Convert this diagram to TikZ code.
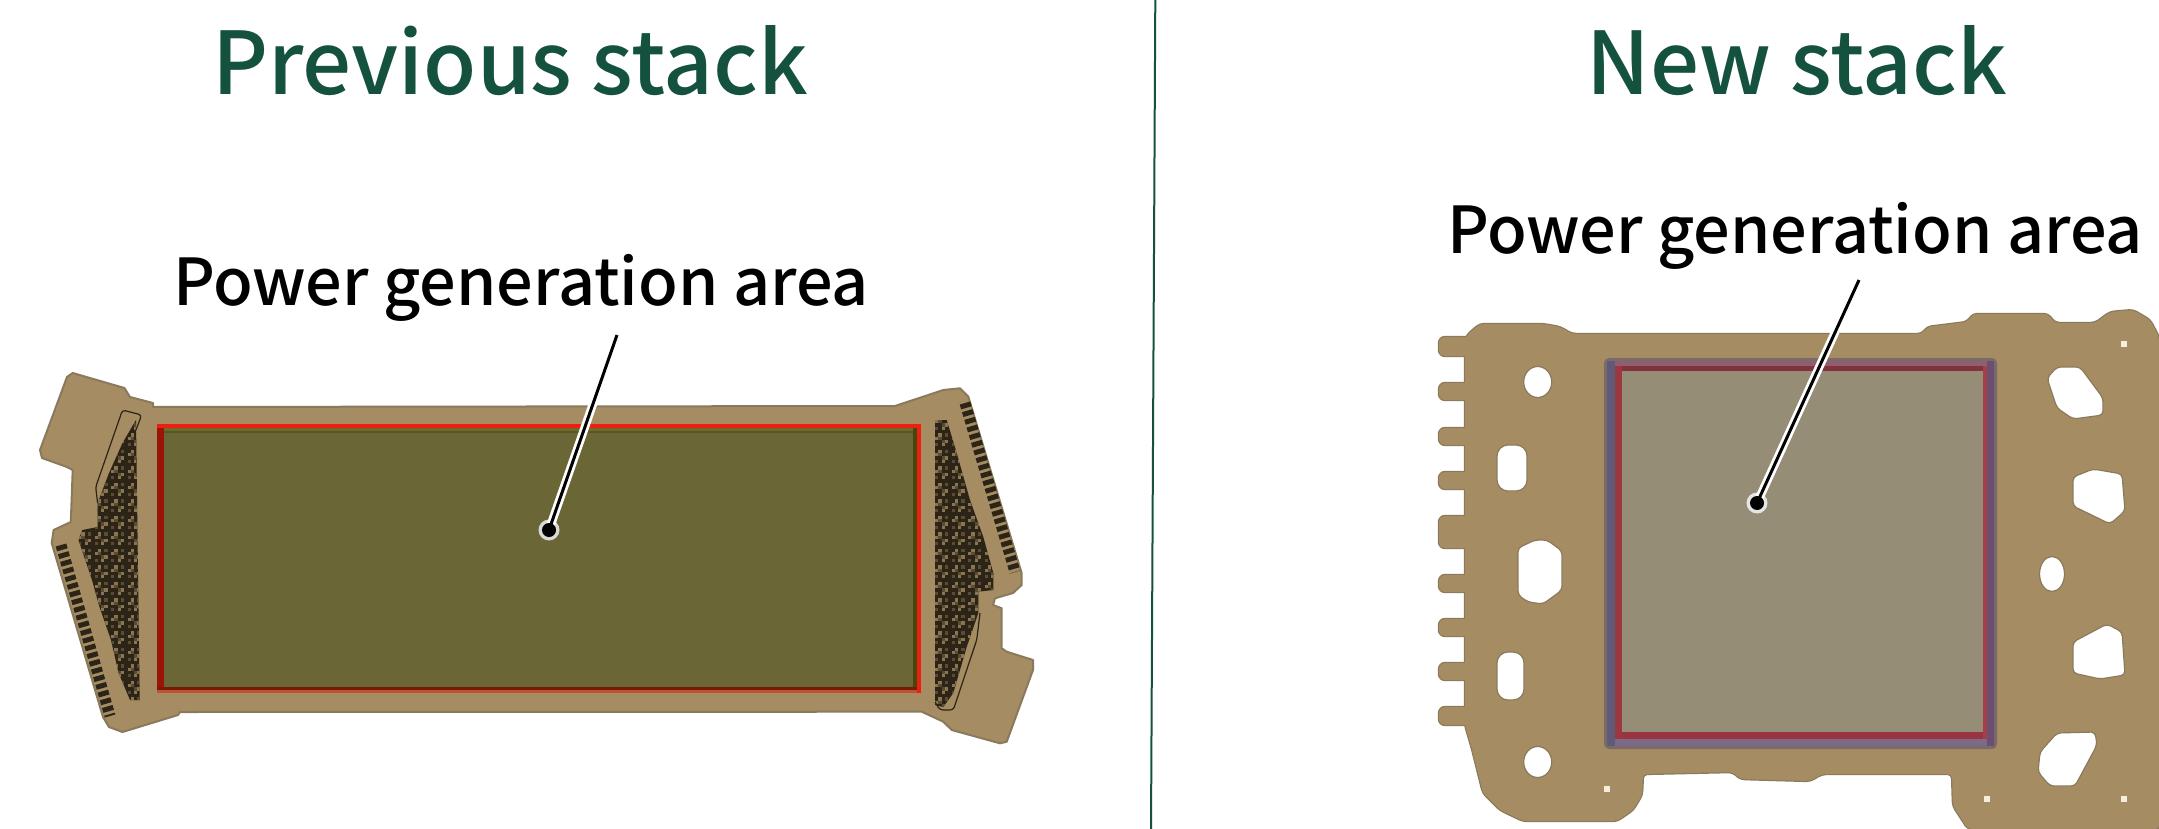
\documentclass[tikz,border=0pt]{standalone}
\usepackage{fontspec}
\setmainfont{Noto Sans CJK JP Medium}
\definecolor{tan}{HTML}{A58C63}
\definecolor{tanedge}{HTML}{8A7A5C}
\definecolor{titlegreen}{HTML}{14523F}
\definecolor{olive}{HTML}{6A6635}
\definecolor{olivelight}{HTML}{6F6A2C}
\definecolor{olivedark}{HTML}{5A5822}
\definecolor{olivedeep}{HTML}{4A4510}
\definecolor{redbright}{HTML}{EE1E10}
\definecolor{reddark}{HTML}{9A1508}
\definecolor{reddeep}{HTML}{7A1A02}
\definecolor{redsoft}{HTML}{BD5238}
\definecolor{greyfill}{HTML}{958D75}
\definecolor{nedge}{HTML}{7A6A68}
\definecolor{ntop}{HTML}{8F5F70}
\definecolor{nbot}{HTML}{7D6A88}
\definecolor{nleft}{HTML}{5F5A78}
\definecolor{nright}{HTML}{6B4F70}
\definecolor{nrtop}{HTML}{82323C}
\definecolor{nrbot}{HTML}{993540}
\definecolor{nrleft}{HTML}{9C3740}
\definecolor{nrright}{HTML}{A5404A}
\definecolor{hdark}{HTML}{2C2416}
\definecolor{hmid}{HTML}{5A4C34}
\definecolor{hlight}{HTML}{8A7550}
\definecolor{cream}{HTML}{F6EEDD}
\newcommand{\hatchgrid}[4]{%
  \fill[hdark] (#1,#2) rectangle ({#1+#3*3.3},{#2+#4*3.3});
  \foreach \i in {0,...,#3}{\foreach \j in {0,...,#4}{%
    \pgfmathtruncatemacro\k{mod(\i*7+\j*11+\i*\j,5)}%
    \ifnum\k=0 \fill[hlight] ({#1+\i*3.3},{#2+\j*3.3}) rectangle ++(3.3,3.3);\fi
    \ifnum\k=2 \fill[hmid] ({#1+\i*3.3},{#2+\j*3.3}) rectangle ++(3.3,3.3);\fi
  }}%
}
\tikzset{
  title/.style={text=titlegreen,font=\fontsize{86.6}{88}\selectfont,inner sep=0pt,anchor=base},
  label/.style={text=black,font=\fontsize{64.7}{66}\selectfont,inner sep=0pt,anchor=base},
  halo/.style={draw=white,line width=8.5pt,line cap=round},
  leader/.style={draw=black,line width=3pt},
  hole/.style={fill=white,draw=tanedge,line width=1.2pt,rounded corners=4pt},
  pin/.style={fill=cream,inner sep=0pt,minimum size=5.5pt},
  hatchline/.style={draw=hdark,line width=1.2pt,rounded corners=3pt},
  strip/.style={draw=hdark,line width=11pt,dash pattern=on 5pt off 3pt},
}
\begin{document}
\begin{tikzpicture}[x=1pt,y=-1pt]
\useasboundingbox (0,0) rectangle (2159,829);
\fill[white] (0,0) rectangle (2159,829);

% divider
\coordinate (divtop) at (1155.3,0);
\coordinate (divbot) at (1151,829);
\draw[titlegreen,line width=2pt] (divtop) -- (divbot);

% titles
\node[title] (t1) at (510,95) {Previous stack};
\node[title] (t2) at (1797,95) {New stack};

% ---------- previous stack plate
\path[fill=tan,draw=tanedge,line width=2pt,line join=round]
 (72.7,373) -- (124.4,388) -- (130,397) -- (153,403) -- (153,407) -- (895,406) -- (943.3,390) -- (960,388.3)
 -- (968.3,396.7) -- (1021.7,573.3) -- (1021.7,585) -- (1013,593) -- (995,598.3) -- (993,605)
 -- (1001.7,608.3) -- (1001.7,648.3) -- (1006.7,651.7) -- (1033,660) -- (1033,670) -- (1006.7,741.7)
 -- (1000,743.3) -- (951.7,730) -- (943.3,721.7) -- (921.7,711.7) -- (180,712) -- (178,715)
 -- (122.5,732) -- (109,727) -- (103,717) -- (51.7,543) -- (53.6,530) -- (70.8,522) -- (72.7,470)
 -- (67,467) -- (42,458) -- (40,450) -- (67,377) -- cycle;

% left hatch
\begin{scope}
\clip (136,420) -- (139.7,700) -- (130,700) -- (118.6,673) -- (111,640) -- (99.5,607) -- (92,580)
 -- (78.5,540) -- (82.3,530) -- (97.6,527) -- (97.6,503) -- (109,473) -- (122.5,443) -- cycle;
\hatchgrid{78}{420}{19}{85}
\end{scope}
\draw[hatchline] (97.6,503) -- (95.7,487) -- (122.5,410) -- (141.6,415) -- (136,430);
\coordinate (ls1) at (61,545);
\coordinate (ls2) at (110,716);
\draw[strip] (ls1) -- (ls2);

% right hatch
\begin{scope}
\clip (935,420) -- (946.7,420) -- (956.7,453) -- (970,500) -- (983.3,537) -- (993.3,573) -- (993.3,590)
 -- (978.3,591.7) -- (978.3,613) -- (966.7,647) -- (953.3,693) -- (943.3,707) -- (935,705) -- cycle;
\hatchgrid{935}{420}{18}{88}
\end{scope}
\draw[hatchline] (980,613) -- (976.7,640) -- (953.3,710) -- (940,710) -- (935,702);
\coordinate (rs1) at (965,403);
\coordinate (rs2) at (1015,572);
\draw[strip] (rs1) -- (rs2);

% previous stack area
\fill[olive] (157,424) rectangle (921,693);
\fill[olivelight] (157,427) rectangle (921,431);
\fill[olivedark] (157,431) rectangle (921,433);
\fill[olivedeep] (913,427) rectangle (917,690);
\fill[reddark] (157,424) rectangle (164,693);
\fill[reddeep] (157,687) rectangle (917,690);
\fill[redsoft] (157,690) rectangle (921,693);
\fill[redbright] (157,424) rectangle (921,427.5);
\fill[redbright] (917,424) rectangle (921,693);

% ---------- new stack plate
\newcommand{\platebody}{
 (1468,334) -- (1480,324) -- (1543,324) -- (1560,327) -- (1572,334) -- (1922,334) -- (1927,327) -- (1967,322)
 -- (1973,314) -- (2048,314) -- (2055,323) -- (2095,323) -- (2110,312) -- (2133,310) -- (2150,320)
 -- (2159,337) -- (2159,829) -- (1968,829) -- (1953,806) -- (1952,774) -- (1822,774) -- (1810,781)
 -- (1740,779) -- (1733,772) -- (1643,774) -- (1642,795) -- (1633,810) -- (1617,821) -- (1523,821)
 -- (1500,810) -- (1483,793) -- (1472,749) -- (1465,725) -- (1465,340) -- cycle}
\foreach \ya/\yb in {337/356,383/400,428/445,472/489,516/548,575/592,619/636,663/680,707/725}{
  \path[draw=tanedge,line width=2.4pt,rounded corners=6pt] (1439,\ya) rectangle (1475,\yb);
}
\path[draw=tanedge,line width=2.4pt,rounded corners=4pt] \platebody;
\foreach \ya/\yb in {337/356,383/400,428/445,472/489,516/548,575/592,619/636,663/680,707/725}{
  \path[fill=tan,rounded corners=6pt] (1439,\ya) rectangle (1475,\yb);
}
\path[fill=tan,rounded corners=4pt] \platebody;

% holes
\fill[white,draw=tanedge,line width=1.2pt] (1537.7,382) ellipse (14 and 15.5);
\fill[white,draw=tanedge,line width=1.2pt] (1537.7,762) ellipse (14 and 15.5);
\path[hole,rounded corners=11pt] (1497,445) rectangle (1527,491);
\path[hole,rounded corners=11pt] (1497,652) rectangle (1524,700);
\path[hole] (1535,540) -- (1547,540) -- (1562,551) -- (1562,590) -- (1543,604) -- (1528,602) -- (1518,595) -- (1518,548) -- cycle;
\path[hole] (2047,378) -- (2057,367) -- (2080,367) -- (2103,398) -- (2103,415) -- (2073,419) -- (2057,408) -- cycle;
\path[hole] (2073,477) -- (2093,469) -- (2122,474) -- (2125,511) -- (2110,524) -- (2073,506) -- cycle;
\fill[white,draw=tanedge,line width=1.2pt] (2052,574) ellipse (12.5 and 17.5);
\path[hole] (2073,642) -- (2107,624) -- (2122,632) -- (2125,675) -- (2100,679) -- (2073,673) -- cycle;
\path[hole] (2057,733) -- (2095,732) -- (2097,745) -- (2075,786) -- (2050,786) -- (2038,772) -- (2040,752) -- cycle;
\node[pin] (p1) at (1607,789) {};
\node[pin] (p2) at (2124,344) {};
\node[pin] (p3) at (1987,799) {};
\node[pin] (p4) at (2124,799) {};

% new stack area
\fill[nedge,rounded corners=5pt] (1604,358) rectangle (1997,749);
\fill[ntop] (1609,361) rectangle (1994,366);
\fill[nbot] (1609,739) rectangle (1994,746);
\fill[nleft] (1607,361) rectangle (1615,746);
\fill[nright] (1987,361) rectangle (1994,746);
\fill[nrtop] (1615,366) rectangle (1987,371);
\fill[nrbot] (1615,732) rectangle (1987,739);
\fill[nrleft] (1615,366) rectangle (1622,739);
\fill[nrright] (1983,366) rectangle (1987,739);
\fill[greyfill] (1622,371) rectangle (1983,732);

% leaders
\node[circle,fill=black,inner sep=0pt,minimum size=14pt] (d1) at (549,530) {};
\coordinate (l1) at (617,335);
\node[circle,fill=black,inner sep=0pt,minimum size=14pt] (d2) at (1757,503) {};
\coordinate (l2) at (1859,280);
\fill[white!85!black] (d1) circle (10.5);
\fill[white!90!black] (d2) circle (10.5);
\draw[halo] (l1) -- (d1.center);
\draw[halo] (l2) -- (d2.center);
\draw[leader] (l1) -- (d1.center);
\draw[leader] (l2) -- (d2.center);
\fill[black] (d1) circle (7);
\fill[black] (d2) circle (7);

% labels
\node[label] (a1) at (521,305) {Power generation area};
\node[label] (a2) at (1795,253) {Power generation area};
\end{tikzpicture}
\end{document}
